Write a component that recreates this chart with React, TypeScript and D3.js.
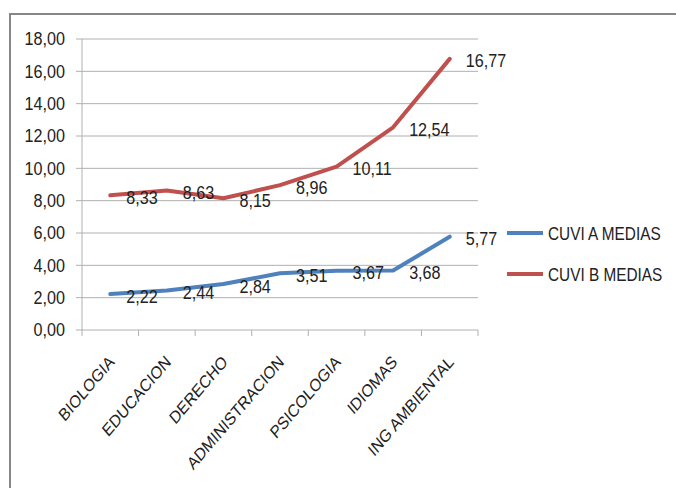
import React from "react";
import * as d3 from "d3";

const categories = ["BIOLOGIA", "EDUCACION", "DERECHO", "ADMINISTRACION", "PSICOLOGIA", "IDIOMAS", "ING AMBIENTAL"];
const cuviA = [2.22, 2.44, 2.84, 3.51, 3.67, 3.68, 5.77];
const cuviB = [8.33, 8.63, 8.15, 8.96, 10.11, 12.54, 16.77];
const yTicks = [0, 2, 4, 6, 8, 10, 12, 14, 16, 18];
const seriesNames = ["CUVI A MEDIAS", "CUVI B MEDIAS"];

const W = 676;
const H = 488;
const FONT = "'Liberation Sans', Arial, sans-serif";

export default function App() {
  const left = 82, right = 478, top = 39, bottom = 330;
  const x = d3.scaleBand<string>().domain(categories).range([left, right]);
  const y = d3.scaleLinear().domain([0, 18]).range([bottom, top]);
  const cx = (c: string) => (x(c) as number) + x.bandwidth() / 2;
  const line = d3
    .line<number>()
    .x((_, i) => cx(categories[i]))
    .y((d) => y(d))
    .curve(d3.curveLinear);
  const fmt = (v: number) => v.toFixed(2).replace(".", ",");
  const series = [
    { name: seriesNames[0], values: cuviA, color: "#4F81BD" },
    { name: seriesNames[1], values: cuviB, color: "#C0504D" },
  ];
  const boundaries = [...categories.map((c) => x(c) as number), right];

  return (
    <svg width={W} height={H} style={{ position: "absolute", left: 0, top: 0, background: "#fff" }}>
      <rect x={0} y={0} width={W} height={H} fill="#fff" />
      <path d={`M10,${H + 5} L10,14 L${W + 5},14`} fill="none" stroke="#868686" strokeWidth={2} />
      {yTicks.map((t) => (
        <g key={t}>
          <line x1={left - 6} x2={right} y1={y(t)} y2={y(t)} stroke="#B0B0B0" strokeWidth={1} />
          <text transform={`translate(${left - 17},${y(t)}) scale(0.95,1.05)`} dy="0.36em" textAnchor="end" fontFamily={FONT} fontSize={17} fill="#222">
            {fmt(t)}
          </text>
        </g>
      ))}
      <line x1={left} x2={left} y1={top} y2={bottom} stroke="#B0B0B0" strokeWidth={1} />
      {boundaries.map((b, i) => (
        <line key={i} x1={b} x2={b} y1={bottom} y2={bottom + 6} stroke="#B0B0B0" strokeWidth={1} />
      ))}
      {categories.map((c) => (
        <text
          key={c}
          transform={`translate(${cx(c) + 5},${bottom + 33}) scale(1,1.17) rotate(-45)`}
          textAnchor="end"
          fontFamily={FONT}
          fontSize={15}
          fill="#222"
        >
          {c}
        </text>
      ))}
      {series.map((s) => (
        <path key={s.name} d={line(s.values) as string} fill="none" stroke={s.color} strokeWidth={4} strokeLinejoin="round" strokeLinecap="round" />
      ))}
      {series.map((s) =>
        s.values.map((v, i) => (
          <text
            key={s.name + i}
            transform={`translate(${cx(categories[i]) + 16},${y(v) + 2}) scale(0.95,1.05)`}
            dy="0.36em"
            fontFamily={FONT}
            fontSize={17}
            fill="#222"
          >
            {fmt(v)}
          </text>
        ))
      )}
      {series.map((s, i) => (
        <g key={s.name} transform={`translate(507,${233 + i * 41})`}>
          <line x1={0} x2={36} y1={0} y2={0} stroke={s.color} strokeWidth={4} />
          <text transform="translate(41,0) scale(0.83,1)" dy="0.36em" fontFamily={FONT} fontSize={18.5} fill="#222">
            {s.name}
          </text>
        </g>
      ))}
    </svg>
  );
}
